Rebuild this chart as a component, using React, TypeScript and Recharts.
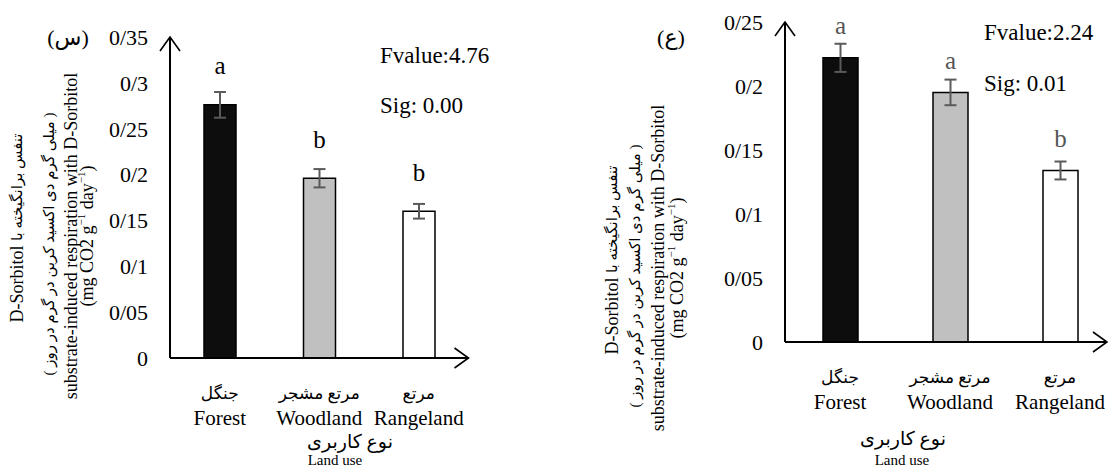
import React from 'react';
import { Bar, BarChart, Cell, ErrorBar, LabelList, XAxis, YAxis } from 'recharts';

const FONT = "'Liberation Serif', 'Times New Roman', 'DejaVu Serif', serif";
const FA_FONT = "'Liberation Serif', 'DejaVu Sans', serif";

// shared categories
const landUseEn = ['Forest', 'Woodland', 'Rangeland'];
const landUseFa = ['جنگل', 'مرتع مشجر', 'مرتع'];
const barFills = ['#0d0d0d', '#c0c0c0', '#ffffff'];

// panel (س)
const leftMeans = [0.276, 0.196, 0.16];
const leftErrors = [0.014, 0.01, 0.008];
const leftLetters = ['a', 'b', 'b'];
const leftTicks = [0, 0.05, 0.1, 0.15, 0.2, 0.25, 0.3, 0.35];

// panel (ع)
const rightMeans = [0.222, 0.195, 0.134];
const rightErrors = [0.011, 0.01, 0.007];
const rightLetters = ['a', 'a', 'b'];
const rightTicks = [0, 0.05, 0.1, 0.15, 0.2, 0.25];

const buildRows = (means: number[], errors: number[], letters: string[]) =>
  landUseEn.map((en, i) => ({ en, fa: landUseFa[i], mean: means[i], err: errors[i], letter: letters[i] }));

const leftData = buildRows(leftMeans, leftErrors, leftLetters);
const rightData = buildRows(rightMeans, rightErrors, rightLetters);

const fmtTick = (v: number) => String(v).replace('.', '/');

interface PanelProps {
  id: string;
  data: Array<{ [key: string]: any }>;
  ticks: number[];
  width: number;
  top: number;
  axisWidth: number;
  xAxisHeight: number;
  right: number;
  padRight: number;
  barSize: number;
  letterColor: string;
  letterGap: number;
  titleX: number[];
  titleY: number;
  xTitleFa: [number, number];
  xTitleEn: [number, number];
}

function CategoryTick(props: any) {
  const { x, y, payload } = props;
  const fa = landUseFa[landUseEn.indexOf(payload.value)];
  return (
    <g>
      <text x={x} y={y + 35} textAnchor="middle" dominantBaseline="central" fontSize={17} fontFamily={FA_FONT} fill="#000">
        {fa}
      </text>
      <text x={x} y={y + 60} textAnchor="middle" dominantBaseline="central" fontSize={21} fontFamily={FONT} fill="#000">
        {payload.value}
      </text>
    </g>
  );
}

function Panel(p: PanelProps) {
  const markerId = `arrow-${p.id}`;
  return (
    <BarChart
      width={p.width}
      height={470}
      data={p.data}
      margin={{ top: p.top, right: p.right, bottom: 0, left: 0 }}
      barSize={p.barSize}
    >
      <defs>
        <marker
          id={markerId}
          viewBox="0 0 16 22"
          refX={15}
          refY={11}
          markerWidth={16}
          markerHeight={22}
          markerUnits="userSpaceOnUse"
          orient="auto-start-reverse"
        >
          <path d="M1,1 L15,11 L1,21" fill="none" stroke="#000" strokeWidth={1.6} />
        </marker>
      </defs>
      <XAxis
        dataKey="en"
        interval={0}
        height={p.xAxisHeight}
        padding={{ left: 0, right: p.padRight }}
        tickLine={false}
        tickSize={0}
        tickMargin={0}
        axisLine={{ stroke: '#000', strokeWidth: 2, markerEnd: `url(#${markerId})` } as any}
        tick={<CategoryTick />}
        label={{
          content: () => (
            <g>
              <text x={p.xTitleFa[0]} y={p.xTitleFa[1]} textAnchor="middle" dominantBaseline="central" fontSize={19} fontFamily={FA_FONT} fill="#000">
                نوع کاربری
              </text>
              <text x={p.xTitleEn[0]} y={p.xTitleEn[1]} textAnchor="middle" fontSize={15} fontFamily={FONT} fill="#000">
                Land use
              </text>
            </g>
          ),
        }}
      />
      <YAxis
        type="number"
        domain={[p.ticks[0], p.ticks[p.ticks.length - 1]]}
        ticks={p.ticks}
        tickFormatter={fmtTick}
        width={p.axisWidth}
        tickLine={false}
        tickSize={0}
        tickMargin={22}
        axisLine={{ stroke: '#000', strokeWidth: 2, markerStart: `url(#${markerId})` } as any}
        tick={{ fontSize: 22, fill: '#000', fontFamily: FONT }}
        label={{
          content: () => (
            <g fill="#000">
              <text
                x={p.titleX[0]}
                y={p.titleY - 8}
                transform={`rotate(-90, ${p.titleX[0]}, ${p.titleY - 8})`}
                textAnchor="middle"
                dominantBaseline="central"
                direction="rtl"
                fontSize={18}
                fontFamily={FONT}
              >
                <tspan fontSize={15} fontFamily={FA_FONT}>تنفس برانگیخته با</tspan>
                {'  D-Sorbitol'}
              </text>
              <text
                x={p.titleX[1]}
                y={p.titleY + 8}
                transform={`rotate(-90, ${p.titleX[1]}, ${p.titleY + 8})`}
                textAnchor="middle"
                dominantBaseline="central"
                direction="rtl"
                fontSize={15}
                fontFamily={FA_FONT}
              >
                ( میلی گرم دی اکسید کربن در گرم در روز )
              </text>
              <text
                x={p.titleX[2]}
                y={p.titleY}
                transform={`rotate(-90, ${p.titleX[2]}, ${p.titleY})`}
                textAnchor="middle"
                dominantBaseline="central"
                fontSize={18}
                fontFamily={FONT}
              >
                substrate-induced respiration with D-Sorbitol
              </text>
              <text
                x={p.titleX[3]}
                y={p.titleY}
                transform={`rotate(-90, ${p.titleX[3]}, ${p.titleY})`}
                textAnchor="middle"
                dominantBaseline="central"
                fontSize={18}
                fontFamily={FONT}
              >
                (mg CO2 g
                <tspan dy={-6} fontSize={11}>−1</tspan>
                <tspan dy={6}> day</tspan>
                <tspan dy={-6} fontSize={11}>−1</tspan>
                <tspan dy={6}>)</tspan>
              </text>
            </g>
          ),
        }}
      />
      <Bar dataKey="mean" stroke="#000" strokeWidth={1.5} isAnimationActive={false}>
        {p.data.map((_, i) => (
          <Cell key={i} fill={barFills[i]} />
        ))}
        <ErrorBar dataKey="err" width={6} strokeWidth={2} stroke="#5a5a5a" direction="y" />
        <LabelList
          dataKey="letter"
          content={(lp: any) => (
            <text
              x={lp.x + lp.width / 2}
              y={lp.y - p.letterGap}
              textAnchor="middle"
              dominantBaseline="central"
              fontSize={25}
              fontFamily={FONT}
              fill={p.letterColor}
            >
              {lp.value}
            </text>
          )}
        />
      </Bar>
    </BarChart>
  );
}

const noteStyle = { fontFamily: FONT, fill: '#000' };

export default function App() {
  return (
    <div
      style={{
        position: 'absolute',
        left: 0,
        top: 0,
        width: 1108,
        height: 470,
        overflow: 'hidden',
        background: '#fff',
      }}
    >
      <div style={{ position: 'absolute', left: 0, top: 0 }}>
        <Panel
          id="s"
          data={leftData}
          ticks={leftTicks}
          width={560}
          top={37}
          axisWidth={170}
          xAxisHeight={112}
          right={91.5}
          padRight={0}
          barSize={32}
          letterColor="#000"
          letterGap={39}
          titleX={[17, 49, 71, 87]}
          titleY={236}
          xTitleFa={[350, 441]}
          xTitleEn={[335, 465]}
        />
      </div>
      <div style={{ position: 'absolute', left: 560, top: 0 }}>
        <Panel
          id="e"
          data={rightData}
          ticks={rightTicks}
          width={560}
          top={22}
          axisWidth={225}
          xAxisHeight={128}
          right={13}
          padRight={-8}
          barSize={35}
          letterColor="#555"
          letterGap={32}
          titleX={[52, 75, 98, 117]}
          titleY={268}
          xTitleFa={[343, 438]}
          xTitleEn={[342, 465]}
        />
      </div>
      <svg
        width={1108}
        height={470}
        style={{ position: 'absolute', left: 0, top: 0, pointerEvents: 'none' }}
      >
        <text x={68} y={45} textAnchor="middle" fontSize={22} fontFamily={FA_FONT} fill="#000">
          (س)
        </text>
        <text x={380} y={63} fontSize={23} {...noteStyle}>Fvalue:4.76</text>
        <text x={380} y={113} fontSize={23} {...noteStyle}>Sig: 0.00</text>
        <text x={671} y={45} textAnchor="middle" fontSize={22} fontFamily={FA_FONT} fill="#000">
          (ع)
        </text>
        <text x={984} y={40} fontSize={23} {...noteStyle}>Fvalue:2.24</text>
        <text x={984} y={91} fontSize={23} {...noteStyle}>Sig: 0.01</text>
      </svg>
    </div>
  );
}
